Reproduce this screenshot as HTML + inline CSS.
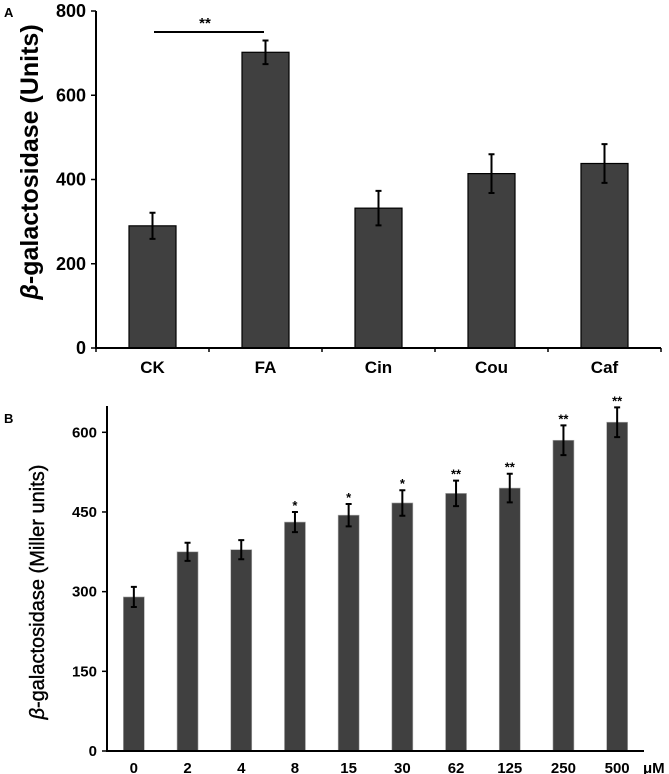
<!DOCTYPE html>
<html><head><meta charset="utf-8"><style>
body{margin:0;background:#fff;}
svg{display:block;font-family:"Liberation Sans",Arial,sans-serif;}
</style></head><body>
<svg id="chart" width="669" height="774"></svg>
<script>
const catsA=["CK","FA","Cin","Cou","Caf"];
const valsA=[290,702,332,414,438];
const errA=[31,28,41,46,46];
const ticksA=[0,200,400,600,800];
const catsB=["0","2","4","8","15","30","62","125","250","500"];
const valsB=[290,375,379,431,444,467,485,495,585,619];
const errB=[19,17,18,19,21,24,24,27,28,28];
const sigB=["","","","*","*","*","**","**","**","**"];
const ticksB=[0,150,300,450,600];

const NS="http://www.w3.org/2000/svg";
const svg=document.getElementById('chart');
function mk(tag,attrs,parent,text){const e=document.createElementNS(NS,tag);for(const k in attrs)e.setAttribute(k,attrs[k]);if(text!==undefined)e.textContent=text;(parent||svg).appendChild(e);return e;}

// Panel A
const gA=mk('g',{});


const ax0=96,ax1=661,ay0=348,aTop=11;
const yA=v=>ay0-(v-0)*(ay0-aTop)/800;
const bwA=(ax1-ax0)/catsA.length;
const xA=i=>ax0+bwA*(i+0.5);
let t=mk('text',{x:4,y:17,'font-size':13,'font-weight':'bold'},gA,'A');

catsA.forEach((c,i)=>{
  const r=mk('rect',{x:xA(i)-23.5,y:yA(valsA[i]),width:47,height:ay0-yA(valsA[i]),fill:'#404040',stroke:'#000','stroke-width':1.2},gA);
  
  const e=mk('path',{d:`M${xA(i)},${yA(valsA[i]+errA[i])}V${yA(valsA[i]-errA[i])}M${xA(i)-3},${yA(valsA[i]+errA[i])}h6M${xA(i)-3},${yA(valsA[i]-errA[i])}h6`,stroke:'#000','stroke-width':2,fill:'none'},gA);
  
  const l=mk('text',{x:xA(i),y:ay0+25,'font-size':17,'font-weight':'bold','text-anchor':'middle'},gA,c);
  
});
let ax=mk('path',{d:`M${ax0},${aTop}V${ay0}H${ax1}`,stroke:'#000','stroke-width':2,fill:'none'},gA);

for(let i=0;i<=catsA.length;i++){mk('line',{x1:ax0+bwA*i,x2:ax0+bwA*i,y1:ay0,y2:ay0+4,stroke:'#000','stroke-width':1.5},gA);}
ticksA.forEach(v=>{
  mk('line',{x1:ax0-5,x2:ax0,y1:yA(v),y2:yA(v),stroke:'#000','stroke-width':1.5},gA);
  const l=mk('text',{x:ax0-10,y:yA(v)+6,'font-size':18,'font-weight':'bold','text-anchor':'end'},gA,v);
  
});
let sig=mk('line',{x1:154,x2:264,y1:32,y2:32,stroke:'#000','stroke-width':2},gA);

t=mk('text',{x:205,y:28,'font-size':15,'font-weight':'bold','text-anchor':'middle'},gA,'**');

t=mk('text',{transform:'translate(38,162) rotate(-90)','font-size':25,'font-weight':'bold','text-anchor':'middle'},gA);

mk('tspan',{'font-style':'italic'},t,'β');mk('tspan',{},t,'-galactosidase (Units)');

// Panel B
const gB=mk('g',{});


const bx0=107,bx1=644,by0=751,bTop=406;
const yB=v=>by0-v*(by0-432.3)/600;
const bwB=(bx1-bx0)/catsB.length;
const xB=i=>bx0+bwB*(i+0.5);
t=mk('text',{x:4,y:423,'font-size':13,'font-weight':'bold'},gB,'B');

catsB.forEach((c,i)=>{
  const r=mk('rect',{x:xB(i)-10.5,y:yB(valsB[i]),width:21,height:by0-yB(valsB[i]),fill:'#404040',stroke:'#aaa','stroke-width':0.6},gB);
  
  const e=mk('path',{d:`M${xB(i)},${yB(valsB[i]+errB[i])}V${yB(valsB[i]-errB[i])}M${xB(i)-3},${yB(valsB[i]+errB[i])}h6M${xB(i)-3},${yB(valsB[i]-errB[i])}h6`,stroke:'#000','stroke-width':2,fill:'none'},gB);
  
  const l=mk('text',{x:xB(i),y:by0+22,'font-size':15,'font-weight':'bold','text-anchor':'middle'},gB,c);
  
  if(sigB[i]){const s=mk('text',{x:xB(i),y:yB(valsB[i]+errB[i])-2,'font-size':13,'font-weight':'bold','text-anchor':'middle'},gB,sigB[i]);
  }
});
ax=mk('path',{d:`M${bx0},${bTop}V${by0}H${bx1}`,stroke:'#000','stroke-width':2,fill:'none'},gB);

ticksB.forEach(v=>{
  mk('line',{x1:bx0-5,x2:bx0,y1:yB(v),y2:yB(v),stroke:'#000','stroke-width':1.5},gB);
  const l=mk('text',{x:bx0-10,y:yB(v)+5,'font-size':15,'font-weight':'bold','text-anchor':'end'},gB,v);
  
});
t=mk('text',{x:643,y:773,'font-size':15,'font-weight':'bold'},gB,'μM');

t=mk('text',{transform:'translate(44,592) rotate(-90)','font-size':20,'text-anchor':'middle',stroke:'#000','stroke-width':0.4},gB);

mk('tspan',{'font-style':'italic'},t,'β');mk('tspan',{},t,'-galactosidase (Miller units)');
</script>
</body></html>
